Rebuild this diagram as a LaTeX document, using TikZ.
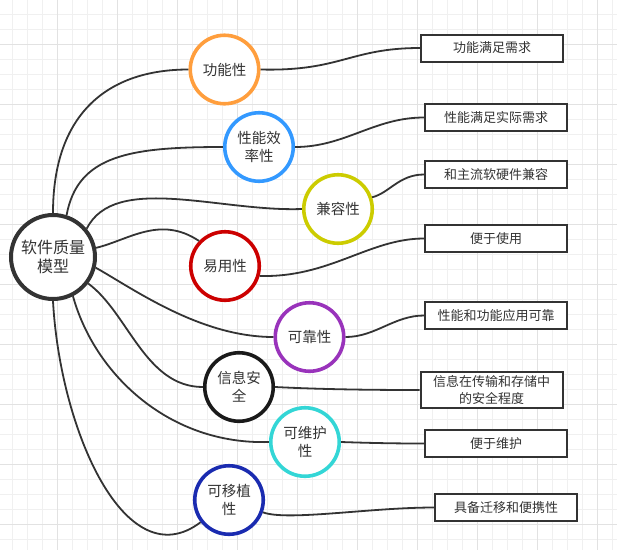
\documentclass[tikz,border=0pt]{standalone}
\usepackage{fontspec}
\newfontfamily\cjk{Noto Sans CJK SC}
\definecolor{txt}{HTML}{333333}
\definecolor{edge}{HTML}{333333}
\definecolor{gminor}{HTML}{F0F0F0}
\definecolor{gmajor}{HTML}{E2E2E2}
\definecolor{corange}{HTML}{FF9E3D}
\definecolor{cblue}{HTML}{3399FF}
\definecolor{cyellow}{HTML}{CCCC00}
\definecolor{cred}{HTML}{CC0000}
\definecolor{cpurple}{HTML}{9933BB}
\definecolor{cblack}{HTML}{1A1A1A}
\definecolor{ccyan}{HTML}{33D6D6}
\definecolor{cdblue}{HTML}{1A2BB0}
\tikzset{
  qual/.style={circle, draw=#1, line width=3.6pt, fill=white, minimum size=68.5pt, inner sep=0pt,
    text=txt, align=center, font=\cjk\fontsize{14.5}{18}\selectfont},
  hub/.style={circle, draw=edge, line width=4pt, fill=white, minimum size=84pt, inner sep=0pt,
    text=txt, align=center, font=\cjk\fontsize{16}{18.5}\selectfont},
  desc/.style={draw=edge, line width=2pt, fill=white, minimum width=142pt, minimum height=27pt,
    inner sep=1pt, text=txt, align=center, font=\cjk\fontsize{13}{17}\selectfont},
  link/.style={draw=edge, line width=1.8pt},
}
\begin{document}
\begin{tikzpicture}[x=1pt,y=-1pt]
\useasboundingbox (0,0) rectangle (617,550);
\fill[white] (0,0) rectangle (617,550);
% grid
\foreach \gx in {12.7,27.7,...,617} {\draw[gminor, line width=0.9pt] (\gx,0) -- (\gx,550);}
\foreach \gy in {14.3,29.3,...,550} {\draw[gminor, line width=0.9pt] (0,\gy) -- (617,\gy);}
\foreach \gx in {57.7,117.7,...,617} {\draw[gmajor, line width=0.9pt] (\gx,0) -- (\gx,550);}
\foreach \gy in {44.3,104.3,...,550} {\draw[gmajor, line width=0.9pt] (0,\gy) -- (617,\gy);}

% circles
\node[hub] (c) at (53,257) {软件质量\\模型};
\node[qual=corange] (f) at (224.5,69.5) {功能性};
\node[qual=cblue] (p) at (259,147) {性能效\\率性};
\node[qual=cyellow] (k) at (338,209) {兼容性};
\node[qual=cred] (e) at (225,266) {易用性};
\node[qual=cpurple] (l) at (309.5,337) {可靠性};
\node[qual=cblack] (i) at (239,387) {信息安\\全};
\node[qual=ccyan] (m) at (305,442) {可维护\\性};
\node[qual=cdblue] (n) at (229,500) {可移植\\性};

% boxes
\node[desc] (b1) at (492,48) {功能满足需求};
\node[desc] (b2) at (496,117.5) {性能满足实际需求};
\node[desc] (b3) at (496,174.5) {和主流软硬件兼容};
\node[desc] (b4) at (496,238.5) {便于使用};
\node[desc] (b5) at (496,315.5) {性能和功能应用可靠};
\node[desc, minimum height=36pt, text width=138pt, inner sep=2pt] (b6) at (491.5,390) {信息在传输和存储中\\的安全程度};
\node[desc] (b7) at (496,443.5) {便于维护};
\node[desc] (b8) at (506,507.5) {具备迁移和便携性};

% links hub -> qualities
\draw[link] (c.90) .. controls +(0,-100) and +(-80,0) .. (f.west);
\draw[link] (c.72) .. controls +(11,-60) and +(-93,0) .. (p.west);
\draw[link] (c.40) .. controls +(28,-56) and +(-82,3) .. (k.west);
\draw[link] (c.12) .. controls +(33,-8) and +(-39,-26) .. (e.136);
\draw[link] (c.-14) .. controls +(39,22) and +(-73,0) .. (l.west);
\draw[link] (c.-37) .. controls +(40,29) and +(-58,0) .. (i.west);
\draw[link] (c.-63) .. controls +(22,79) and +(-99,3) .. (m.west);
\draw[link] (c.-90) .. controls +(7,129) and +(-75,57) .. (n.218);

% links qualities -> boxes
\draw[link] (f.east) .. controls +(80,2) and +(-70,0) .. (b1.west);
\draw[link] (p.east) .. controls +(50,0) and +(-50,0) .. (b2.west);
\draw[link] (k.19) .. controls +(17,-4) and +(-25,0) .. (b3.west);
\draw[link] (e.-16) .. controls +(70,2) and +(-55,0) .. (b4.west);
\draw[link] (l.east) .. controls +(30,0) and +(-30,0) .. (b5.west);
\draw[link] (i.east) .. controls +(40,2) and +(-60,0) .. (b6.west);
\draw[link] (m.east) .. controls +(30,1) and +(-30,0) .. (b7.west);
\draw[link] (n.-20) .. controls +(25,9) and +(-65,0) .. (b8.west);
\end{tikzpicture}
\end{document}
